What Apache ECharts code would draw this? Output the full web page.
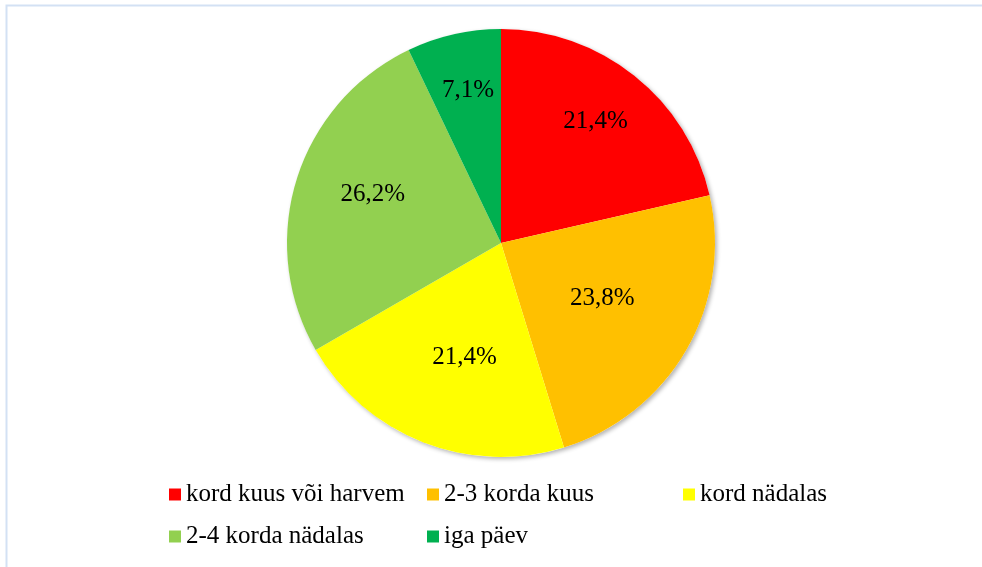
<!DOCTYPE html>
<html>
<head>
<meta charset="utf-8">
<script src="https://cdn.jsdelivr.net/npm/echarts@6/dist/echarts.min.js"></script>
<style>
  html, body { margin: 0; padding: 0; background: #fff; }
  #chart { width: 982px; height: 567px; }
</style>
</head>
<body>
<div id="chart"></div>
<script>
  // andmed
  var categories = ['kord kuus või harvem', '2-3 korda kuus', 'kord nädalas', '2-4 korda nädalas', 'iga päev'];
  var values = [21.4, 23.8, 21.4, 26.2, 7.1];
  var colors = ['#ff0000', '#ffc000', '#ffff00', '#92d050', '#00b050'];

  // paigutus
  var cx = 501, cy = 243, r = 214;
  var labelDist = [0.72, 0.54, 0.56, 0.64, 0.73]; // sildi kaugus keskpunktist (r osa)
  var labelShift = [-0.7, -1.3, -3.7, 3.5, 0.6];  // nurga nihe kraadides
  var legendPos = [[169, 482], [427, 482], [683, 482], [169, 524], [427, 524]];
  var font = '"Times New Roman", "Liberation Serif", serif';

  var total = 0;
  for (var i = 0; i < values.length; i++) total += values[i];

  var pieData = [];
  for (var i = 0; i < values.length; i++) {
    pieData.push({ name: categories[i], value: values[i], itemStyle: { color: colors[i] } });
  }

  var legends = [];
  for (var i = 0; i < categories.length; i++) {
    legends.push({
      left: legendPos[i][0],
      top: legendPos[i][1],
      padding: 0,
      itemWidth: 12,
      itemHeight: 12,
      itemGap: 0,
      icon: 'rect',
      selectedMode: false,
      data: [{ name: categories[i], itemStyle: { color: colors[i] } }],
      textStyle: { fontFamily: font, fontSize: 25, color: '#000' }
    });
  }

  var myChart = echarts.init(document.getElementById('chart'));
  var option = {
    animation: false,
    backgroundColor: '#fff',
    textStyle: { fontFamily: font },
    graphic: [{
      type: 'rect',
      shape: { x: 6.5, y: 5.5, width: 1000, height: 600 },
      style: { fill: 'none', stroke: '#d3e1f4', lineWidth: 2 },
      silent: true
    }],
    legend: legends,
    series: [
      {
        // vari ringi taga
        type: 'pie',
        center: [cx, cy],
        radius: [0, r],
        silent: true,
        z: 1,
        label: { show: false },
        labelLine: { show: false },
        data: [{ name: '', value: 1, itemStyle: { color: '#fff', shadowBlur: 4, shadowOffsetX: 2, shadowOffsetY: 2, shadowColor: 'rgba(0,0,0,0.3)' } }]
      },
      {
        type: 'pie',
        center: [cx, cy],
        radius: [0, r],
        startAngle: 90,
        clockwise: true,
        z: 2,
        silent: true,
        data: pieData,
        label: {
          show: true,
          position: 'inside',
          fontFamily: font,
          fontSize: 25,
          color: '#000',
          align: 'center',
          verticalAlign: 'middle',
          formatter: function (p) {
            return p.value.toFixed(1).replace('.', ',') + '%';
          }
        },
        labelLine: { show: false },
        labelLayout: function (params) {
          var idx = params.dataIndex;
          var cum = 0;
          for (var k = 0; k < idx; k++) cum += values[k];
          var theta = (cum + values[idx] / 2) / total * 2 * Math.PI + labelShift[idx] * Math.PI / 180;
          var d = labelDist[idx] * r;
          return { x: cx + d * Math.sin(theta), y: cy - d * Math.cos(theta), align: 'center', verticalAlign: 'middle' };
        }
      }
    ]
  };
  myChart.setOption(option);
</script>
</body>
</html>
